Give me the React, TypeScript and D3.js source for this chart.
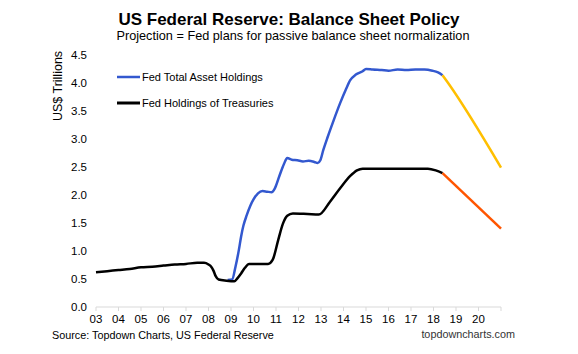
import * as d3 from "d3";

// Fed holdings of Treasuries (US$ trillions), by decimal year
const treasuryYears = [
  2003.0, 2003.5, 2004.0, 2004.5, 2005.0, 2005.5, 2006.0, 2006.5, 2007.0, 2007.5,
  2007.8, 2008.0, 2008.12, 2008.22, 2008.32, 2008.45, 2008.8, 2009.15, 2009.3, 2009.45,
  2009.62, 2009.8, 2010.3, 2010.65, 2010.85, 2011.1, 2011.3, 2011.5, 2011.75, 2012.4,
  2012.9, 2013.4, 2013.85, 2014.3, 2014.6, 2014.85, 2015.5, 2016.5, 2017.3, 2017.75,
  2018.1, 2018.4,
];
const treasuryValues = [
  0.62, 0.64, 0.66, 0.68, 0.71, 0.72, 0.74, 0.76, 0.77, 0.79,
  0.79, 0.76, 0.72, 0.65, 0.55, 0.49, 0.47, 0.46, 0.52, 0.6,
  0.7, 0.77, 0.77, 0.77, 0.84, 1.2, 1.48, 1.63, 1.67, 1.66,
  1.65, 1.88, 2.12, 2.34, 2.44, 2.47, 2.47, 2.47, 2.47, 2.47,
  2.44, 2.39,
];
const treasuryProjYears = [2018.4, 2021.0];
const treasuryProjValues = [2.39, 1.4];

// Fed total asset holdings
const assetYears = [
  2008.85, 2009.05, 2009.2, 2009.35, 2009.45, 2009.55, 2009.7, 2009.85, 2010.0, 2010.2,
  2010.4, 2010.6, 2010.8, 2010.95, 2011.15, 2011.35, 2011.5, 2011.7, 2011.95, 2012.2,
  2012.45, 2012.7, 2012.85, 2012.97, 2013.1, 2013.3, 2013.55, 2013.85, 2014.1, 2014.3,
  2014.55, 2014.85, 2015.0, 2015.3, 2015.7, 2016.0, 2016.4, 2016.8, 2017.2, 2017.6,
  2017.95, 2018.2, 2018.4,
];
const assetValues = [
  0.48, 0.49, 0.72, 1.02, 1.26, 1.45, 1.64, 1.8, 1.92, 2.03,
  2.07, 2.06, 2.05, 2.12, 2.34, 2.55, 2.66, 2.63, 2.62, 2.6,
  2.61, 2.59, 2.57, 2.62, 2.8, 3.04, 3.32, 3.64, 3.88, 4.05,
  4.15, 4.21, 4.25, 4.24, 4.23, 4.22, 4.24, 4.23, 4.24, 4.24,
  4.22, 4.19, 4.14,
];
const assetProjYears = [2018.4, 2018.65, 2021.0];
const assetProjValues = [4.14, 4.0, 2.49];

const yTicks = [0, 0.5, 1, 1.5, 2, 2.5, 3, 3.5, 4, 4.5];
const xTickYears = d3.range(2003, 2022);
const xLabelYears = d3.range(2003, 2021);

const font = "'Liberation Sans', Arial, sans-serif";

const App = () => {
  const width = 578;
  const height = 354;

  const x = d3.scaleLinear().domain([2003, 2021]).range([96, 501]);
  const y = d3.scaleLinear().domain([0, 4.5]).range([307, 55]);

  const line = d3
    .line<[number, number]>()
    .x((d) => x(d[0]))
    .y((d) => y(d[1]))
    .curve(d3.curveMonotoneX);

  const pairs = (xs: number[], vs: number[]) =>
    xs.map((t, i) => [t, vs[i]] as [number, number]);

  const series = [
    { data: pairs(assetYears, assetValues), color: "#3358cf" },
    { data: pairs(assetProjYears, assetProjValues), color: "#ffbf00" },
    { data: pairs(treasuryYears, treasuryValues), color: "#000000" },
    { data: pairs(treasuryProjYears, treasuryProjValues), color: "#ff5500" },
  ];

  return (
    <svg
      width={width}
      height={height}
      style={{ position: "absolute", left: 0, top: 0, background: "#fff" }}
      fontFamily={font}
    >
      <text x={289} y={25} textAnchor="middle" fontSize={17} fontWeight="bold">
        US Federal Reserve: Balance Sheet Policy
      </text>
      <text x={293} y={40} textAnchor="middle" fontSize={12.7}>
        Projection = Fed plans for passive balance sheet normalization
      </text>

      <text
        transform="translate(62,86) rotate(-90)"
        textAnchor="middle"
        fontSize={12.5}
      >
        US$ Trillions
      </text>

      {yTicks.map((t) => (
        <text key={t} x={87} y={y(t) + 4} textAnchor="end" fontSize={11.5}>
          {t.toFixed(1)}
        </text>
      ))}

      <line x1={x(2003)} x2={x(2021)} y1={y(0)} y2={y(0)} stroke="#d9d9d9" strokeWidth={1} />
      {xTickYears.map((t) => (
        <line key={t} x1={x(t)} x2={x(t)} y1={y(0)} y2={y(0) + 4} stroke="#d9d9d9" strokeWidth={1} />
      ))}
      {xLabelYears.map((t) => (
        <text key={t} x={x(t)} y={323} textAnchor="middle" fontSize={11.5}>
          {String(t % 100).padStart(2, "0")}
        </text>
      ))}

      {series.map((s, i) => (
        <path
          key={i}
          d={line(s.data) as string}
          fill="none"
          stroke={s.color}
          strokeWidth={2.5}
          strokeLinejoin="round"
        />
      ))}

      <line x1={117} x2={140} y1={77} y2={77} stroke="#3358cf" strokeWidth={2.5} />
      <text x={142} y={81} fontSize={11}>Fed Total Asset Holdings</text>
      <line x1={117} x2={140} y1={103} y2={103} stroke="#000" strokeWidth={3} />
      <text x={142} y={107} fontSize={11}>Fed Holdings of Treasuries</text>

      <text x={52} y={339} fontSize={10.8}>Source: Topdown Charts, US Federal Reserve</text>
      <text x={515} y={338} textAnchor="end" fontSize={10.8} fill="#333">
        topdowncharts.com
      </text>
    </svg>
  );
};

export default App;
